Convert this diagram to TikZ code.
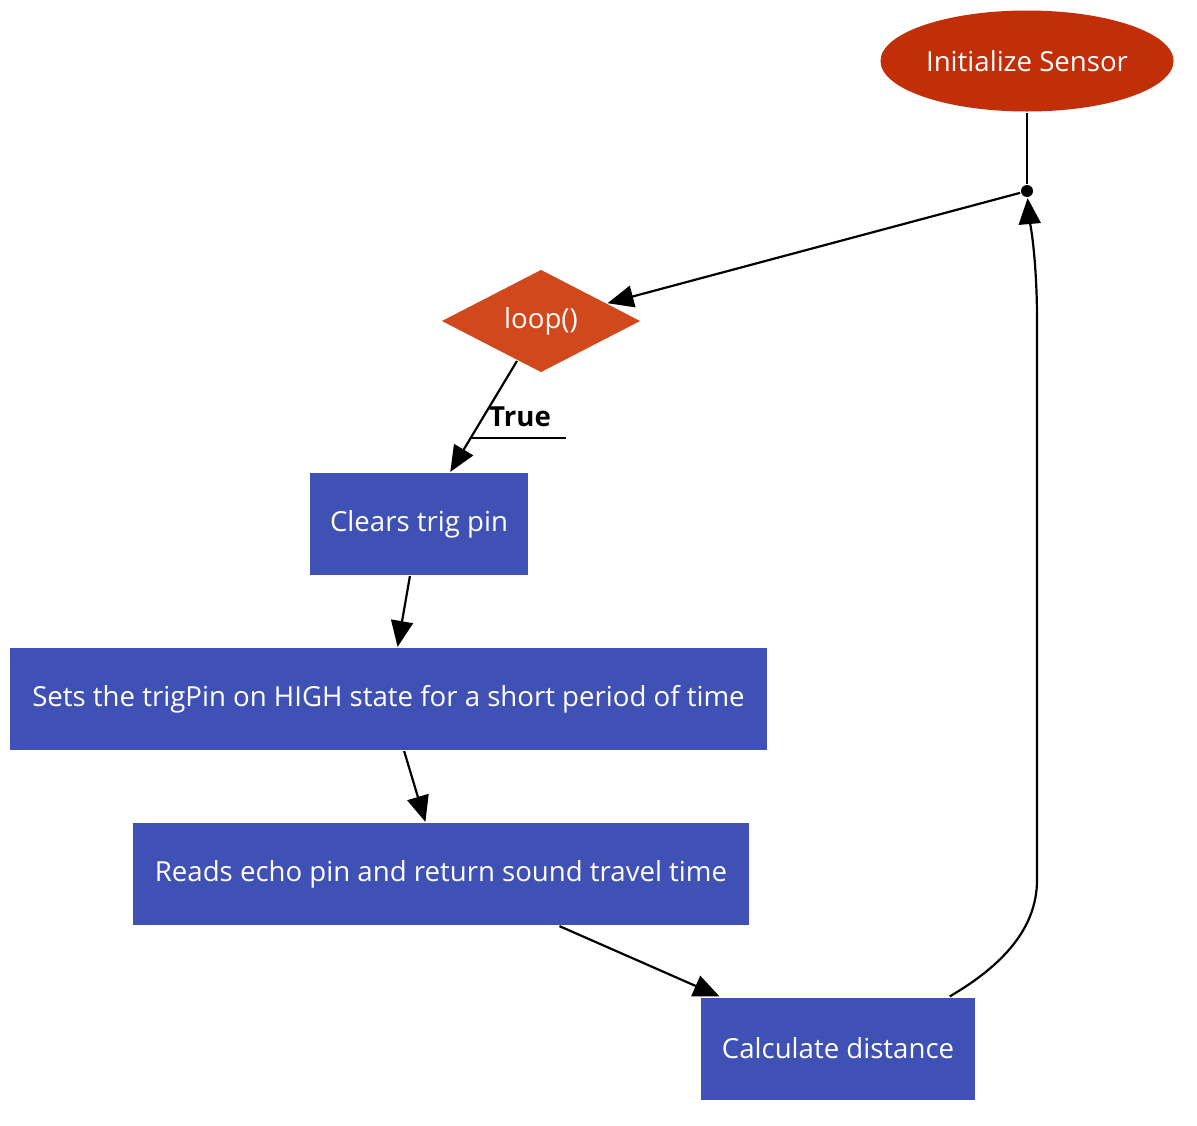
\documentclass[tikz,border=0pt]{standalone}
\usepackage{fontspec}
\setmainfont{Open Sans}
\usetikzlibrary{positioning,shapes.geometric,arrows.meta,calc}

\definecolor{startred}{HTML}{C12E08}
\definecolor{looporange}{HTML}{D0481C}
\definecolor{stepblue}{HTML}{4051B5}

\tikzset{
  procbox/.style={rectangle, fill=stepblue, text=white, minimum height=51pt, inner sep=0pt},
  startnode/.style={ellipse, fill=startred, text=white, minimum width=146.5pt, minimum height=50.5pt, inner sep=0pt},
  decide/.style={diamond, fill=looporange, text=white, minimum width=99.5pt, minimum height=51.5pt, inner sep=0pt},
}

\begin{document}
\begin{tikzpicture}[x=0.5pt, y=-0.5pt, line width=1.1pt, >={Triangle[length=13pt,width=11pt]}, font=\fontsize{13.8}{16}\selectfont]
      \useasboundingbox (0,0) rectangle (1197,1125);

      \node (init) [startnode] at (1027,61) {Initialize Sensor};
      \node (jn) [circle, fill, inner sep=0pt, minimum size=6pt] at (1027,191) {};
      \node (loop) [decide] at (541,321) {loop()};
      \node (clear) [procbox, minimum width=109pt] at (419,524) {Clears trig pin};
      \node (trig) [procbox, minimum width=378.5pt] at (388.5,699) {Sets the trigPin on HIGH state for a short period of time};
      \node (echo) [procbox, minimum width=308pt] at (441,874) {Reads echo pin and return sound travel time};
      \node (dist) [procbox, minimum width=137pt] at (838,1048.5) {Calculate distance};

      \node (truelbl) [font=\fontsize{13.8}{16}\selectfont\bfseries] at (520,417) {True};
      \coordinate (ul) at (470,438);
      \draw (ul) -- ++(96,0);

      \draw (init) -- (jn);
      \path[->]
        (jn) edge (loop)
        (loop) edge (clear)
        (clear) edge (trig)
        (trig) edge (echo)
        (echo) edge (dist);
      \draw[->] (dist.25) .. controls (1000,967) and (1037,930) .. (1037,880)
        -- (1037,320) .. controls (1037,255) and (1029,215) .. (jn);
    \end{tikzpicture}
\end{document}
